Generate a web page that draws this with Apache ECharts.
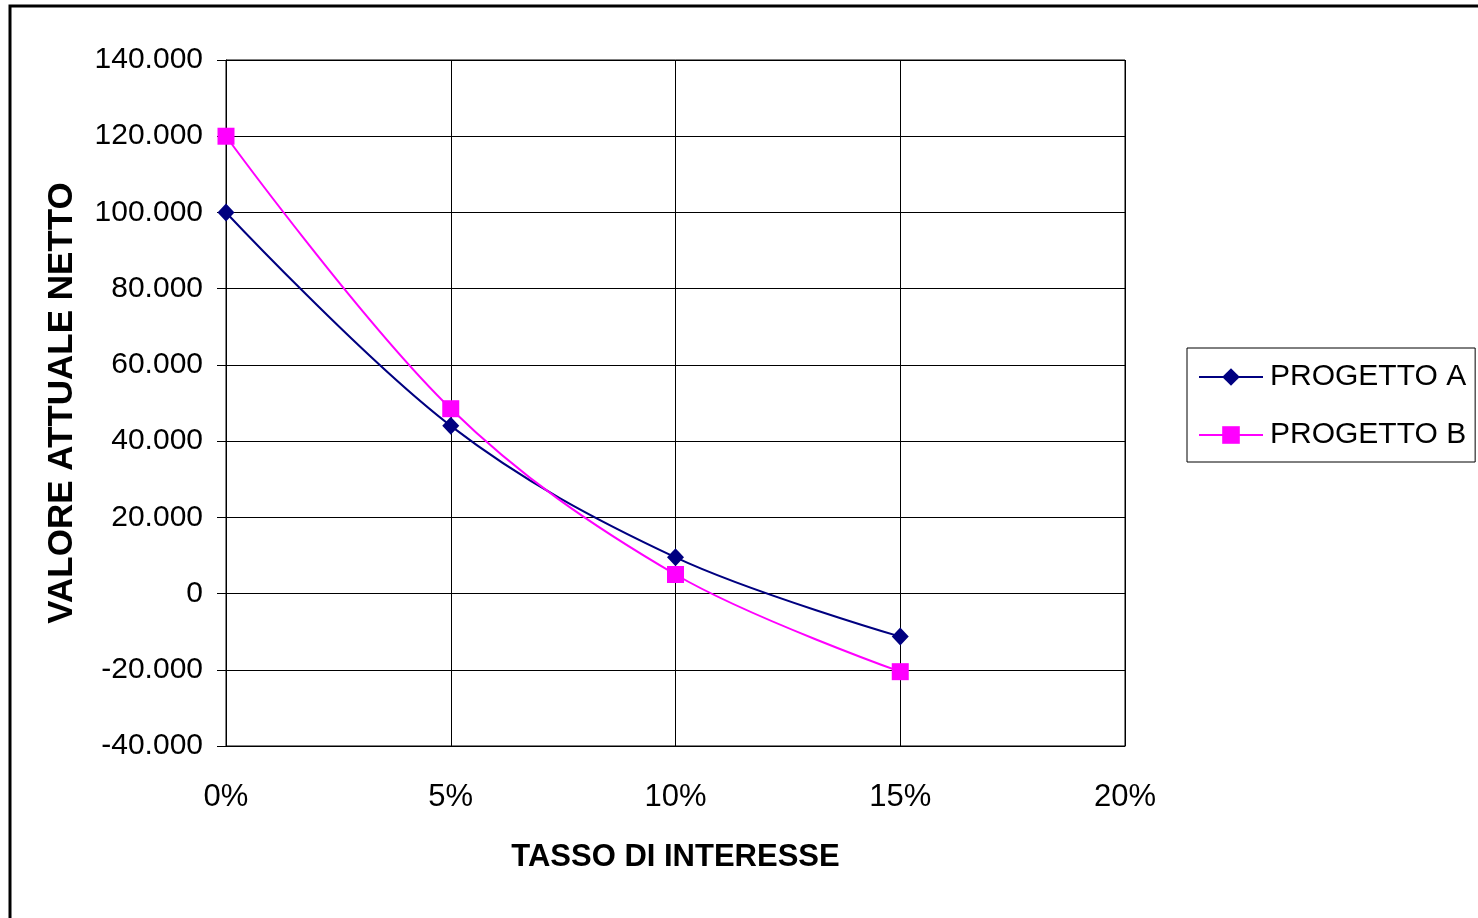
<!DOCTYPE html>
<html>
<head>
<meta charset="utf-8">
<title>Valore attuale netto</title>
<script src="https://cdn.jsdelivr.net/npm/echarts@6/dist/echarts.min.js"></script>
<style>
  html, body { margin: 0; padding: 0; background: #fff; }
  #chart { width: 1478px; height: 918px; }
</style>
</head>
<body>
<div id="chart"></div>
<script>
// Tassi di interesse (asse x) e VAN dei due progetti
const tassi = [0, 0.05, 0.10, 0.15];
const progettoA = [100000, 44000, 9500, -11300];
const progettoB = [120000, 48500, 5000, -20500];
const nomiSerie = ['PROGETTO A', 'PROGETTO B'];
const titoloX = 'TASSO DI INTERESSE';
const titoloY = 'VALORE ATTUALE NETTO';

const font = '"Liberation Sans", Arial, sans-serif';

function fmtMigliaia(v) {
  const s = Math.abs(v).toString().replace(/\B(?=(\d{3})+(?!\d))/g, '.');
  return (v < 0 ? '-' : '') + s;
}

const chart = echarts.init(document.getElementById('chart'), null, { renderer: 'canvas' });

chart.setOption({
  backgroundColor: '#fff',
  animation: false,
  graphic: [{
    type: 'rect',
    shape: { x: 10, y: 6, width: 1500, height: 950 },
    style: { fill: 'none', stroke: '#000', lineWidth: 3 },
    silent: true,
    z: 100
  }],
  grid: {
    left: 226, right: 353, top: 60, bottom: 172,
    show: true, borderColor: '#000', borderWidth: 1
  },
  legend: {
    left: 1187, top: 348,
    orient: 'vertical',
    data: nomiSerie,
    itemWidth: 64, itemHeight: 22, itemGap: 28,
    padding: [14, 9, 12, 11],
    borderColor: '#000', borderWidth: 1,
    textStyle: { fontFamily: font, fontSize: 30, color: '#000', padding: [0, 0, 0, 2] }
  },
  xAxis: {
    type: 'value',
    min: 0, max: 0.2, interval: 0.05,
    name: titoloX,
    nameLocation: 'middle',
    nameGap: 96,
    nameTextStyle: { fontFamily: font, fontSize: 31, fontWeight: 'bold', color: '#000' },
    axisLine: { show: true, onZero: false, lineStyle: { color: '#000', width: 1 } },
    axisTick: { show: false },
    axisLabel: {
      margin: 36, fontFamily: font, fontSize: 31, color: '#000',
      formatter: v => Math.round(v * 100) + '%'
    },
    splitLine: { show: true, lineStyle: { color: '#000', width: 1 } }
  },
  yAxis: {
    type: 'value',
    min: -40000, max: 140000, interval: 20000,
    name: titoloY,
    nameLocation: 'middle',
    nameGap: 146,
    nameTextStyle: { fontFamily: font, fontSize: 35, fontWeight: 'bold', color: '#000' },
    axisLine: { show: true, onZero: false, lineStyle: { color: '#000', width: 1 } },
    axisTick: { show: true, inside: false, length: 9, lineStyle: { color: '#000' } },
    axisLabel: {
      margin: 23, fontFamily: font, fontSize: 30, color: '#000',
      formatter: fmtMigliaia
    },
    splitLine: { show: true, lineStyle: { color: '#000', width: 1 } }
  },
  series: [
    {
      name: nomiSerie[0],
      type: 'line',
      data: tassi.map((t, i) => [t, progettoA[i]]),
      smooth: 0.35,
      symbol: 'diamond',
      symbolSize: [17, 18],
      color: '#000080',
      lineStyle: { color: '#000080', width: 2 },
      itemStyle: { color: '#000080' },
      z: 3
    },
    {
      name: nomiSerie[1],
      type: 'line',
      data: tassi.map((t, i) => [t, progettoB[i]]),
      smooth: 0.35,
      symbol: 'rect',
      symbolSize: 17,
      color: '#FF00FF',
      lineStyle: { color: '#FF00FF', width: 2 },
      itemStyle: { color: '#FF00FF' },
      z: 4
    }
  ]
});
</script>
</body>
</html>
